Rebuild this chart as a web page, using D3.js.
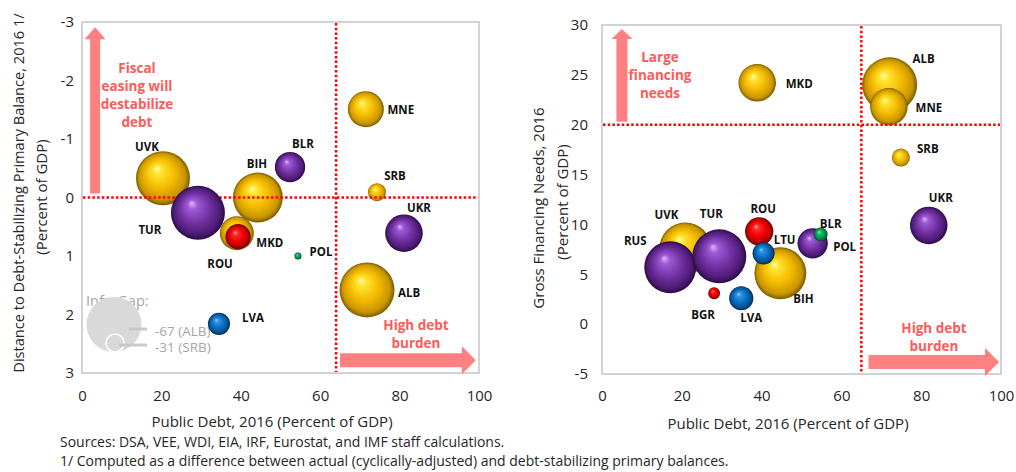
<!DOCTYPE html>
<html>
<head>
<meta charset="utf-8">
<script src="https://cdn.jsdelivr.net/npm/d3@7"></script>
<style>
  body { margin: 0; background: #fff; }
  svg { display: block; font-family: "Open Sans", "Noto Sans", sans-serif; }
</style>
</head>
<body>
<svg id="chart" width="1016" height="472"></svg>
<script>
// ---------------- Data ----------------
// Left panel: public debt vs. distance to debt-stabilizing primary balance (2016)
const leftCountries = ["UVK", "BIH", "MKD", "ROU", "SRB", "MNE", "ALB", "LVA", "POL", "TUR", "BLR", "UKR"];
const leftDebt      = [20.4, 44.3, 39.0, 39.3, 74.3, 71.5, 71.8, 34.5, 54.4, 29.2, 52.4, 81.1];
const leftDistance  = [-0.33, 0.0, 0.61, 0.67, -0.09, -1.51, 1.58, 2.16, 1.0, 0.26, -0.52, 0.61];
const leftGap       = [66, 62, 46.5, 38, 31, 48.5, 67, 35, 20.3, 66, 43, 50];
const leftGroup     = ["WB", "WB", "WB", "SEE", "WB", "WB", "WB", "BAL", "CE", "EAST", "EAST", "EAST"];
const leftFrontFrom = 9; // bubbles from this index are drawn above the reference lines

// Right panel: public debt vs. gross financing needs (2016)
const rightCountries = ["UVK", "MKD", "ALB", "MNE", "SRB", "ROU", "BIH", "LTU", "BGR", "LVA", "RUS", "TUR", "UKR", "POL", "BLR"];
const rightDebt      = [20.9, 38.9, 72.1, 71.9, 74.9, 39.4, 44.7, 40.5, 28.1, 34.9, 17.1, 29.4, 81.9, 52.8, 54.8];
const rightGfn       = [7.6, 24.2, 24.0, 21.8, 16.7, 9.3, 5.1, 7.1, 3.1, 2.6, 5.7, 6.8, 9.9, 8.1, 9.0];
const rightGap       = [64, 50, 67, 50, 31, 41, 64, 35, 25, 37, 64, 66, 50, 43, 27];
const rightGroup     = ["WB", "WB", "WB", "WB", "WB", "SEE", "WB", "BAL", "SEE", "BAL", "EAST", "EAST", "EAST", "EAST", "CE"];
const rightFrontFrom = 10;

// Axis ticks and thresholds
const debtTicks     = [0, 20, 40, 60, 80, 100];
const distanceTicks = [-3, -2, -1, 0, 1, 2, 3];
const gfnTicks      = [-5, 0, 5, 10, 15, 20, 25, 30];
const leftDebtLine  = 64;
const distanceLine  = 0;
const rightDebtLine = 65;
const gfnLine       = 20;

// Bubble-size legend (infrastructure gap)
const legendGap    = [67, 31];
const legendLabels = ["-67 (ALB)", "-31 (SRB)"];

// ---------------- Layout ----------------
const labelOffsetLeft = {
  UVK: [-16, -32], TUR: [-48, 17], BIH: [-1, -34], BLR: [13, -24], MNE: [35, 0],
  SRB: [18, -17], UKR: [15, -26], ALB: [42, 3], MKD: [33, 9], ROU: [-18, 27],
  POL: [23, -5], LVA: [34, -6]
};
const labelOffsetRight = {
  MKD: [42, 1], ALB: [34, -26], MNE: [40, 1], SRB: [27, -9], UKR: [12, -28],
  RUS: [-35, -27], UVK: [-19, -34], TUR: [-8, -43], ROU: [4, -23], LTU: [21, -14],
  BLR: [10, -11], POL: [32, 3], BIH: [23, 25], BGR: [-11, 21], LVA: [10, 19]
};

const svg = d3.select("#chart");
const defs = svg.append("defs");

// Shaded sphere fills, one per country group
const palette = {
  WB:   ["#ffffa8", "#ffe22e", "#f3b900", "#c79500", "#7a5a00"],
  EAST: ["#e0b6ff", "#9e5ad6", "#7232a3", "#4d1b75", "#2a0b44"],
  SEE:  ["#ffb4b4", "#ff2c2c", "#ee0000", "#b40000", "#5a0000"],
  BAL:  ["#9ed6ff", "#2c95e6", "#0a6fc2", "#064d8c", "#022a4c"],
  CE:   ["#a6ffcc", "#24cc72", "#00a552", "#00733a", "#003a1c"]
};
Object.entries(palette).forEach(([key, c]) => {
  const grad = defs.append("radialGradient").attr("id", "ball-" + key)
    .attr("cx", "50%").attr("cy", "50%").attr("r", "50%")
    .attr("fx", "38%").attr("fy", "32%");
  [[0, c[0]], [0.18, c[1]], [0.55, c[2]], [0.86, c[3]], [1, c[4]]].forEach(([o, col]) =>
    grad.append("stop").attr("offset", o).attr("stop-color", col));
});

const rScale = d3.scaleLinear().domain([31, 67]).range([9, 27.5]);

const AXIS_COLOR = "#262626";
const NOTE_COLOR = "#ff5a5a";
const ARROW_COLOR = "#ff8080";

function upArrow(g, cx, yBottom, yTip, shaftW, headW, headH) {
  const pts = [
    [cx - shaftW / 2, yBottom], [cx - shaftW / 2, yTip + headH], [cx - headW / 2, yTip + headH],
    [cx, yTip], [cx + headW / 2, yTip + headH], [cx + shaftW / 2, yTip + headH], [cx + shaftW / 2, yBottom]
  ];
  g.append("polygon").attr("points", pts.map(p => p.join(",")).join(" ")).attr("fill", ARROW_COLOR);
}
function rightArrow(g, xStart, xTip, cy, shaftH, headH, headL) {
  const pts = [
    [xStart, cy - shaftH / 2], [xTip - headL, cy - shaftH / 2], [xTip - headL, cy - headH / 2],
    [xTip, cy], [xTip - headL, cy + headH / 2], [xTip - headL, cy + shaftH / 2], [xStart, cy + shaftH / 2]
  ];
  g.append("polygon").attr("points", pts.map(p => p.join(",")).join(" ")).attr("fill", ARROW_COLOR);
}
function noteText(g, x, y, lines) {
  const t = g.append("text").attr("text-anchor", "middle").attr("font-size", 13.5)
    .attr("font-weight", 700).attr("fill", NOTE_COLOR);
  lines.forEach((s, i) => t.append("tspan").attr("x", x).attr("y", y + i * 18).text(s));
}

function panel(o) {
  const g = svg.append("g");
  const [x0, x1] = o.x.range();
  const top = Math.min(...o.y.range()), bottom = Math.max(...o.y.range());

  // plot frame
  g.append("rect").attr("x", x0).attr("y", top).attr("width", x1 - x0).attr("height", bottom - top)
    .attr("fill", "none").attr("stroke", "#c4c4c4").attr("stroke-width", 1.5);

  // axes
  const xa = g.append("g").attr("transform", `translate(0,${bottom})`)
    .call(d3.axisBottom(o.x).tickValues(debtTicks).tickSize(0).tickPadding(o.xPad).tickFormat(d => String(d)));
  const ya = g.append("g").attr("transform", `translate(${x0},0)`)
    .call(d3.axisLeft(o.y).tickValues(o.yTicks).tickSize(0).tickPadding(o.yPad).tickFormat(d => String(d)));
  [xa, ya].forEach(a => {
    a.select(".domain").remove();
    a.attr("font-family", null).attr("font-size", 15).attr("color", AXIS_COLOR);
  });

  // axis titles
  g.append("text").attr("x", o.xTitle[0]).attr("y", o.xTitle[1]).attr("text-anchor", "middle")
    .attr("dominant-baseline", "central").attr("font-size", 15).attr("fill", AXIS_COLOR)
    .text("Public Debt, 2016 (Percent of GDP)");
  o.yTitle.forEach(([tx, ty, s, fs]) =>
    g.append("text").attr("transform", `translate(${tx},${ty}) rotate(-90)`).attr("text-anchor", "middle")
      .attr("dominant-baseline", "central").attr("font-size", fs).attr("fill", AXIS_COLOR).text(s));

  // annotations
  o.notes(g);

  const rows = o.countries.map((c, i) => ({ c, x: o.xv[i], y: o.yv[i], s: o.size[i], grp: o.group[i], i }));
  const drawBubbles = list => g.append("g").selectAll("circle").data(list).join("circle")
    .attr("cx", d => o.x(d.x)).attr("cy", d => o.y(d.y)).attr("r", d => rScale(d.s))
    .attr("fill", d => `url(#ball-${d.grp})`);

  drawBubbles(rows.filter(d => d.i < o.frontFrom));

  // threshold lines
  const lines = g.append("g").attr("stroke", "#ff0000").attr("stroke-width", 2.5)
    .attr("stroke-dasharray", "2.5,2.2").attr("fill", "none");
  lines.append("line").attr("x1", x0 + 1).attr("x2", x1 - 1).attr("y1", o.y(o.hLine)).attr("y2", o.y(o.hLine));
  lines.append("line").attr("x1", o.x(o.vLine)).attr("x2", o.x(o.vLine)).attr("y1", top + 1).attr("y2", bottom - 1);

  drawBubbles(rows.filter(d => d.i >= o.frontFrom));

  // country labels
  g.append("g").selectAll("text").data(rows).join("text")
    .attr("x", d => o.x(d.x) + o.labels[d.c][0]).attr("y", d => o.y(d.y) + o.labels[d.c][1])
    .attr("text-anchor", "middle").attr("dominant-baseline", "central")
    .attr("font-size", 11.5).attr("font-weight", 700).attr("fill", "#111").text(d => d.c);
  return g;
}

// ---------------- Left panel ----------------
const xL = d3.scaleLinear().domain([0, 100]).range([82, 479]);
const yL = d3.scaleLinear().domain([-3, 3]).range([22, 373]);

panel({
  x: xL, y: yL, yTicks: distanceTicks, xPad: 17, yPad: 8,
  countries: leftCountries, xv: leftDebt, yv: leftDistance, size: leftGap, group: leftGroup,
  frontFrom: leftFrontFrom, labels: labelOffsetLeft, hLine: distanceLine, vLine: leftDebtLine,
  xTitle: [272, 421],
  yTitle: [[18, 193, "Distance to Debt-Stabilizing Primary Balance, 2016 1/", 14.6], [41, 197, "(Percent of GDP)", 15]],
  notes: g => {
    upArrow(g, xL(3.3), yL(-0.07), yL(-2.91), 10, 21, 12);
    noteText(g, 137, 73, ["Fiscal", "easing will", "destabilize", "debt"]);
    rightArrow(g, xL(65), xL(99.2), yL(2.78), 14, 28, 14);
    noteText(g, 416, 330, ["High debt", "burden"]);

    // infrastructure-gap size legend
    g.append("text").attr("x", 86).attr("y", 306).attr("font-size", 14.5).attr("fill", "#a6a6a6").text("Infr. Gap:");
    const cx = 114, base = 352;
    g.append("circle").attr("cx", cx).attr("cy", base - rScale(legendGap[0])).attr("r", rScale(legendGap[0])).attr("fill", "#d9d9d9");
    g.append("circle").attr("cx", cx + 1).attr("cy", base - rScale(legendGap[1])).attr("r", rScale(legendGap[1]))
      .attr("fill", "none").attr("stroke", "#fff").attr("stroke-width", 1.5);
    const ly = [329, 345], lx0 = [129, 119];
    legendLabels.forEach((s, i) => {
      g.append("line").attr("x1", lx0[i]).attr("x2", 147).attr("y1", ly[i]).attr("y2", ly[i])
        .attr("stroke", "#c8c8c8").attr("stroke-width", 3);
      g.append("text").attr("x", 155).attr("y", ly[i] + 2).attr("dominant-baseline", "central")
        .attr("font-size", 13.5).attr("fill", "#a6a6a6").text(s);
    });
  }
});

// ---------------- Right panel ----------------
const xR = d3.scaleLinear().domain([0, 100]).range([602, 1001]);
const yR = d3.scaleLinear().domain([-5, 30]).range([374, 25]);

panel({
  x: xR, y: yR, yTicks: gfnTicks, xPad: 16, yPad: 14,
  countries: rightCountries, xv: rightDebt, yv: rightGfn, size: rightGap, group: rightGroup,
  frontFrom: rightFrontFrom, labels: labelOffsetRight, hLine: gfnLine, vLine: rightDebtLine,
  xTitle: [788, 423],
  yTitle: [[538, 208, "Gross Financing Needs, 2016", 15], [562, 202, "(Percent of GDP)", 15]],
  notes: g => {
    upArrow(g, xR(5), yR(20.3), yR(29.6), 11, 21, 10);
    noteText(g, 660, 62, ["Large", "financing", "needs"]);
    rightArrow(g, xR(66.8), xR(99.5), yR(-3.8), 14, 28, 14);
    noteText(g, 934, 333, ["High debt", "burden"]);
  }
});

// ---------------- Source notes ----------------
const notes = [
  "Sources: DSA, VEE, WDI, EIA, IRF, Eurostat, and IMF staff calculations.",
  "1/ Computed as a difference between actual (cyclically-adjusted) and debt-stabilizing primary balances."
];
svg.append("g").selectAll("text").data(notes).join("text")
  .attr("x", 60).attr("y", (d, i) => 441 + i * 19.5).attr("dominant-baseline", "central")
  .attr("font-size", 14).attr("fill", AXIS_COLOR).text(d => d);
</script>
</body>
</html>
